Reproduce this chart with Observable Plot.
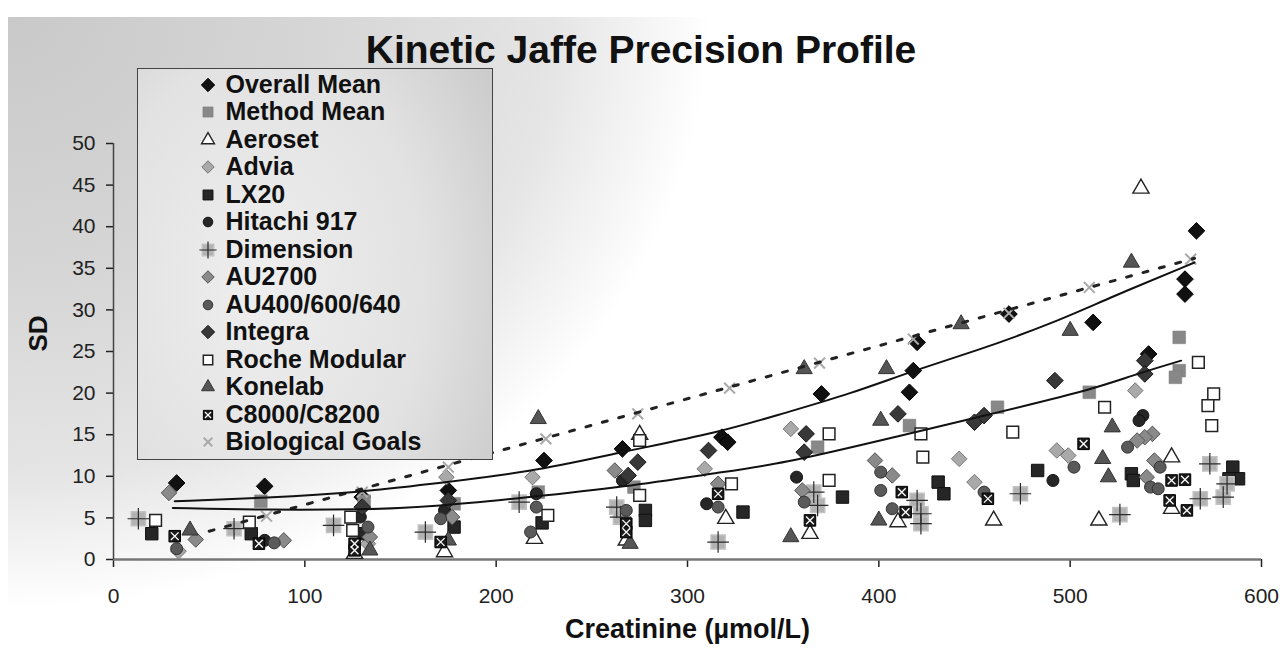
<!DOCTYPE html>
<html><head><meta charset="utf-8">
<script src="https://cdn.jsdelivr.net/npm/d3@7"></script>
<script src="https://cdn.jsdelivr.net/npm/@observablehq/plot@0.6"></script>
<style>
html,body{margin:0;padding:0;background:#fff;}
body{width:1282px;height:657px;position:relative;overflow:hidden;font-family:"Liberation Sans",Arial,sans-serif;}
#bg{position:absolute;left:8px;top:17px;width:1274px;height:640px;background:radial-gradient(ellipse 700px 590px at 0 0,#c9c9c9 0%,#d6d6d6 45%,#e5e5e5 78%,#fafafa 96%,#fff 100%);}
#chart{position:absolute;left:0;top:0;}
#title{position:absolute;left:0;top:30px;width:1282px;text-align:center;font-weight:bold;font-size:39px;line-height:39px;color:#111;white-space:nowrap;}
#legend{position:absolute;left:137px;top:68px;width:354px;height:390px;border:1.5px solid #444;background:radial-gradient(ellipse 300px 420px at 35% 55%,#eeeeee 0%,#e2e2e2 55%,#c6c6c6 100%);}
.row{position:absolute;left:0;height:27.5px;width:350px;font-weight:bold;font-size:25px;line-height:27.5px;color:#111;white-space:nowrap;}
.row svg{position:absolute;left:61.5px;top:5.75px;}
.row span{position:absolute;left:87.5px;top:0;}
</style>
</head><body>
<div id="bg"></div>
<div id="chart"></div>
<div id="title">Kinetic Jaffe Precision Profile</div>
<div id="legend"></div>
<script>
// ---- data (creatinine µmol/L, SD) ----
const xTicks = [0, 100, 200, 300, 400, 500, 600];
const yTicks = [0, 5, 10, 15, 20, 25, 30, 35, 40, 45, 50];

const overallMean = [[33,9.2],[79,8.8],[130,7.5],[175,8.3],[225,11.9],[266,13.3],[318,14.7],[321,14.1],[370,19.9],[416,20.1],[418,22.7],[420,26.1],[468,29.5],[512,28.5],[541,24.7],[560,33.7],[560,31.9],[566,39.5]];
const methodMean = [[77,7.0],[131,7.0],[178,6.7],[222,8.1],[272,8.7],[368,13.5],[416,16.1],[462,18.3],[510,20.1],[557,26.7],[557,22.7],[555,21.9]];
const aeroset = [[126,0.7],[173,0.9],[220,2.5],[268,2.3],[275,15.0],[320,4.9],[364,3.1],[410,4.5],[460,4.7],[515,4.7],[537,44.6],[553,12.3],[553,6.1]];
const advia = [[34,1.0],[133,1.9],[174,9.9],[219,9.9],[309,10.9],[354,15.7],[442,12.1],[450,9.3],[493,13.1],[499,12.5],[534,20.3]];
const lx20 = [[20,3.1],[72,3.1],[131,3.1],[178,3.9],[224,4.4],[278,5.9],[278,4.7],[329,5.7],[381,7.5],[431,9.3],[434,7.9],[483,10.7],[532,10.3],[533,9.5],[585,11.1],[588,9.7],[583,9.7]];
const hitachi917 = [[79,2.3],[129,5.1],[173,5.9],[221,7.9],[266,9.5],[310,6.7],[357,9.9],[491,9.5],[538,17.3],[536,16.7]];
const dimension = [[13,4.9],[63,3.7],[115,4.1],[163,3.3],[212,6.9],[263,6.3],[265,5.1],[316,2.1],[366,8.1],[368,6.5],[420,7.1],[422,5.5],[422,4.3],[474,7.9],[526,5.4],[573,11.5],[568,7.3],[580,7.5],[582,9.1]];
const au2700 = [[29,8.0],[43,2.4],[89,2.3],[134,2.7],[177,5.1],[262,10.7],[316,9.1],[360,8.3],[398,11.9],[407,10.1],[540,9.9],[543,15.1],[539,14.7],[535,14.3],[544,11.9]];
const au400 = [[33,1.3],[84,2.0],[133,3.9],[171,4.9],[221,6.3],[218,3.3],[268,5.9],[316,6.3],[361,6.9],[401,10.5],[401,8.3],[407,6.1],[455,8.1],[502,11.1],[530,13.5],[547,11.1],[542,8.7],[546,8.5]];
const integra = [[130,6.3],[175,7.1],[274,11.7],[269,10.1],[311,13.1],[362,15.1],[361,12.9],[410,17.5],[450,16.5],[455,17.3],[492,21.5],[539,23.9],[539,22.3]];
const rocheModular = [[22,4.7],[71,4.5],[124,5.1],[125,3.5],[227,5.3],[275,14.3],[275,7.7],[323,9.1],[374,15.1],[374,9.5],[422,15.1],[423,12.3],[470,15.3],[518,18.3],[567,23.7],[575,19.9],[572,18.5],[574,16.1]];
const konelab = [[40,3.5],[134,1.1],[175,2.3],[222,16.9],[270,1.9],[354,2.7],[361,22.9],[404,22.9],[401,16.7],[400,4.7],[443,28.3],[500,27.5],[532,35.7],[522,15.9],[517,12.1],[520,9.9]];
const c8000 = [[32,2.8],[76,1.9],[126,1.9],[126,1.1],[171,2.1],[268,4.3],[268,3.3],[316,7.9],[364,4.7],[412,8.1],[414,5.7],[457,7.3],[507,13.9],[553,9.5],[560,9.6],[552,7.1],[561,5.9]];
const biologicalGoals = [[80,5.2],[130,8.1],[175,11.1],[226,14.5],[274,17.5],[322,20.6],[369,23.6],[418,26.5],[468,29.6],[510,32.7],[563,36.1]];

const bioTrend = [[50,3.4],[565,36.2]];
const upperTrend = [[32,7.0],[80,7.4],[130,8.1],[166,9.1],[218,10.5],[265,12.9],[317,15.3],[349,17.5],[385,19.9],[418,22.7],[450,25.0],[490,28.3],[521,31.5],[565,35.7]];
const lowerTrend = [[31,6.2],[80,5.95],[130,6.0],[166,6.3],[218,7.5],[266,8.7],[318,10.5],[349,11.5],[401,14.3],[448,16.9],[510,20.3],[532,22.1],[558,23.9]];

// ---- series styles ----
const series = [
  {name:"Overall Mean", data:overallMean, layers:[{symbol:"diamond2", r:7.5, fill:"#111", stroke:"#000", sw:1}]},
  {name:"Method Mean", data:methodMean, layers:[{symbol:"square", r:7.2, fill:"#888", stroke:"#7e7e7e", sw:0.5}]},
  {name:"Aeroset", data:aeroset, layers:[{symbol:"triangle", r:6, fill:"#fff", stroke:"#222", sw:1.4}]},
  {name:"Advia", data:advia, layers:[{symbol:"diamond2", r:7, fill:"#a9a9a9", stroke:"#777", sw:1}]},
  {name:"LX20", data:lx20, layers:[{symbol:"square", r:7, fill:"#262626", stroke:"#111", sw:1}]},
  {name:"Hitachi 917", data:hitachi917, layers:[{symbol:"circle", r:6, fill:"#262626", stroke:"#111", sw:1}]},
  {name:"Dimension", data:dimension, layers:[{symbol:"square", r:8, fill:"#b2b2b2", stroke:"#c2c2c2", sw:1.5},{symbol:"plus", r:7, fill:"none", stroke:"#2a2a2a", sw:1.2}]},
  {name:"AU2700", data:au2700, layers:[{symbol:"diamond2", r:7, fill:"#8a8a8a", stroke:"#555", sw:1}]},
  {name:"AU400/600/640", data:au400, layers:[{symbol:"circle", r:6, fill:"#5a5a5a", stroke:"#333", sw:1}]},
  {name:"Integra", data:integra, layers:[{symbol:"diamond2", r:7.5, fill:"#383838", stroke:"#1a1a1a", sw:1}]},
  {name:"Roche Modular", data:rocheModular, layers:[{symbol:"square", r:6.6, fill:"#fff", stroke:"#222", sw:1.5}]},
  {name:"Konelab", data:konelab, layers:[{symbol:"triangle", r:6, fill:"#555", stroke:"#333", sw:1}]},
  {name:"C8000/C8200", data:c8000, layers:[{symbol:"square", r:6.5, fill:"#1a1a1a", stroke:"#000", sw:1},{symbol:"times", r:3.6, fill:"none", stroke:"#fff", sw:1.3}]},
  {name:"Biological Goals", data:biologicalGoals, layers:[{symbol:"times", r:5, fill:"none", stroke:"#aaa", sw:2}]}
];

const dotMarks = series.flatMap(s => s.layers.map(L => Plot.dot(s.data, {
  x: d => d[0], y: d => d[1], symbol: L.symbol, r: L.r,
  fill: L.fill, stroke: L.stroke, strokeWidth: L.sw
})));

const chart = Plot.plot({
  width: 1282, height: 657,
  marginLeft: 113, marginRight: 21, marginTop: 143, marginBottom: 98,
  x: {domain: [0, 600], label: null},
  y: {domain: [0, 50], label: null},
  style: {background: "transparent", fontFamily: '"Liberation Sans", Arial, sans-serif', color: "#222", overflow: "visible"},
  marks: [
    Plot.axisY({ticks: yTicks, tickSize: 7, tickPadding: 11, fontSize: 21, strokeWidth: 1.5, label: null}),
    Plot.axisX({ticks: xTicks, tickSize: 8, tickPadding: 21, fontSize: 21, strokeWidth: 1.5, label: null}),
    Plot.ruleY([0], {stroke: "#777", strokeWidth: 2.5}),
    Plot.ruleX([0], {y1: 0, y2: 50, stroke: "#444", strokeWidth: 1.5}),
    ...dotMarks,
    Plot.line(bioTrend, {x: d => d[0], y: d => d[1], stroke: "#222", strokeWidth: 3, strokeDasharray: "5,12"}),
    Plot.line(upperTrend, {x: d => d[0], y: d => d[1], curve: "basis", stroke: "#111", strokeWidth: 2}),
    Plot.line(lowerTrend, {x: d => d[0], y: d => d[1], curve: "basis", stroke: "#111", strokeWidth: 2}),
    Plot.text(["SD"], {text: d => d, frameAnchor: "left", dx: -75, rotate: -90, fontSize: 26, fontWeight: "bold", fill: "#111"}),
    Plot.text(["Creatinine (µmol/L)"], {text: d => d, frameAnchor: "bottom", dy: 78, fontSize: 27, fontWeight: "bold", fill: "#111"})
  ]
});
document.getElementById("chart").append(chart);

// ---- legend ----
const symMap = {diamond2: d3.symbolDiamond2, square: d3.symbolSquare, triangle: d3.symbolTriangle, circle: d3.symbolCircle, times: d3.symbolTimes, plus: d3.symbolPlus};
const legend = document.getElementById("legend");
series.forEach((s, i) => {
  const row = document.createElement("div");
  row.className = "row";
  row.style.top = (1.75 + i * 27.5) + "px";
  const paths = s.layers.map(L => {
    const rr = L.r * 0.8;
    const d = d3.symbol(symMap[L.symbol], Math.PI * rr * rr)();
    return `<path d="${d}" fill="${L.fill}" stroke="${L.stroke}" stroke-width="${L.sw}"/>`;
  }).join("");
  row.innerHTML = `<svg width="16" height="16" viewBox="-8 -8 16 16" style="overflow:visible">${paths}</svg><span>${s.name}</span>`;
  legend.append(row);
});
</script>
</body></html>
